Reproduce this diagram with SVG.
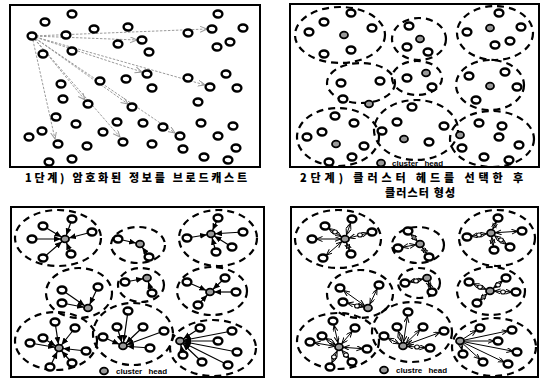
<svg xmlns="http://www.w3.org/2000/svg" xmlns:xlink="http://www.w3.org/1999/xlink" width="545" height="381" viewBox="0 0 545 381">
<style>
.frame{fill:none;stroke:#000;stroke-width:2}
.n{fill:#fff;stroke:#000;stroke-width:2.4}
.h{fill:#9a9a9a;stroke:#000;stroke-width:1.8}
.s{fill:#fff;stroke:#000;stroke-width:1.1}
.c{fill:none;stroke:#000;stroke-width:2.2;stroke-dasharray:7 5}
.g{stroke:#9a9a9a;stroke-width:1;stroke-dasharray:2.5 1.5;marker-end:url(#ga)}
.a{stroke:#000;stroke-width:1.2;marker-end:url(#ba)}
.b{stroke:#000;stroke-width:1;marker-start:url(#ba2);marker-end:url(#ba2)}
.o{stroke:#000;stroke-width:1;marker-end:url(#ba2)}
.cap{font-family:"Noto Sans CJK KR","Noto Sans CJK SC",sans-serif;font-weight:900;font-size:11px;fill:#000}
.lg{font-family:"Liberation Sans",Arial,sans-serif;font-weight:bold;font-size:8px;fill:#000;word-spacing:4px}
</style>
<defs>
<ellipse id="nd" cx="0" cy="0" rx="4.4" ry="3.5" class="n"/>
<ellipse id="hd" cx="0" cy="0" rx="4" ry="3.3" class="h"/>
<ellipse id="sm" cx="0" cy="0" rx="2.4" ry="2" class="s"/>
<marker id="ga" markerUnits="userSpaceOnUse" markerWidth="10" markerHeight="8" refX="7" refY="3" orient="auto"><path d="M0,0 L7,3 L0,6" fill="none" stroke="#9a9a9a" stroke-width="1"/></marker>
<marker id="ba" markerUnits="userSpaceOnUse" markerWidth="14" markerHeight="8" refX="11" refY="3" orient="auto"><path d="M0,0 L7,3 L0,6 z" fill="#000"/></marker>
<marker id="ba2" markerUnits="userSpaceOnUse" markerWidth="14" markerHeight="8" refX="10.5" refY="2.5" orient="auto-start-reverse"><path d="M0,0 L6,2.5 L0,5" fill="none" stroke="#000" stroke-width="1"/></marker>
</defs>
<rect width="545" height="381" fill="#fff"/>

<!-- Panel 1 -->
<g id="panel1">
<rect class="frame" x="10" y="5" width="250" height="162"/>
<g id="p1-connectors">
<line class="g" x1="32" y1="36" x2="207" y2="29"/>
<line class="g" x1="32" y1="36" x2="137" y2="40"/>
<line class="g" x1="32" y1="36" x2="142" y2="72"/>
<line class="g" x1="32" y1="36" x2="205" y2="85"/>
<line class="g" x1="32" y1="36" x2="85" y2="100"/>
<line class="g" x1="32" y1="36" x2="128" y2="104"/>
<line class="g" x1="32" y1="36" x2="55" y2="139"/>
<line class="g" x1="32" y1="36" x2="120" y2="137"/>
<line class="g" x1="32" y1="36" x2="175" y2="133"/>
</g>
<g id="p1-nodes">
<use href="#nd" x="72" y="14"/><use href="#nd" x="45" y="22"/><use href="#nd" x="218" y="14"/>
<use href="#nd" x="32" y="36"/><use href="#nd" x="66" y="35"/><use href="#nd" x="94" y="29"/>
<use href="#nd" x="128" y="27"/><use href="#nd" x="142" y="40"/><use href="#nd" x="118" y="44"/>
<use href="#nd" x="149" y="52"/><use href="#nd" x="188" y="33"/><use href="#nd" x="212" y="29"/>
<use href="#nd" x="243" y="28"/><use href="#nd" x="230" y="42"/><use href="#nd" x="217" y="47"/>
<use href="#nd" x="43" y="54"/><use href="#nd" x="72" y="51"/><use href="#nd" x="147" y="74"/>
<use href="#nd" x="126" y="79"/><use href="#nd" x="100" y="81"/><use href="#nd" x="152" y="88"/>
<use href="#nd" x="188" y="78"/><use href="#nd" x="226" y="74"/><use href="#nd" x="210" y="87"/>
<use href="#nd" x="237" y="88"/><use href="#nd" x="61" y="84"/><use href="#nd" x="63" y="99"/>
<use href="#nd" x="88" y="104"/><use href="#nd" x="132" y="107"/><use href="#nd" x="198" y="102"/>
<use href="#nd" x="56" y="117"/><use href="#nd" x="76" y="124"/><use href="#nd" x="117" y="122"/>
<use href="#nd" x="143" y="123"/><use href="#nd" x="163" y="127"/><use href="#nd" x="201" y="123"/>
<use href="#nd" x="233" y="126"/><use href="#nd" x="42" y="131"/><use href="#nd" x="29" y="137"/>
<use href="#nd" x="103" y="132"/><use href="#nd" x="180" y="136"/><use href="#nd" x="218" y="136"/>
<use href="#nd" x="58" y="144"/><use href="#nd" x="87" y="146"/><use href="#nd" x="123" y="142"/>
<use href="#nd" x="152" y="144"/><use href="#nd" x="183" y="149"/><use href="#nd" x="236" y="148"/>
<use href="#nd" x="49" y="162"/><use href="#nd" x="72" y="159"/><use href="#nd" x="204" y="157"/>
<use href="#nd" x="228" y="160"/>
</g>
</g>
<text class="cap" x="25" y="182" textLength="222" lengthAdjust="spacing">1단계) 암호화된 정보를 브로드캐스트</text>

<!-- Panel 2 -->
<g id="panel2">
<rect class="frame" x="290" y="4" width="249" height="163"/>
<g id="p2-clusters">
<ellipse class="c" cx="340" cy="35" rx="45" ry="28"/>
<ellipse class="c" cx="419" cy="39" rx="27" ry="21"/>
<ellipse class="c" cx="495" cy="33" rx="38" ry="27"/>
<ellipse class="c" cx="361" cy="83" rx="34" ry="20"/>
<ellipse class="c" cx="417" cy="78" rx="25" ry="17"/>
<ellipse class="c" cx="490" cy="85" rx="34" ry="25"/>
<ellipse class="c" cx="338" cy="137" rx="41" ry="29"/>
<ellipse class="c" cx="416" cy="130" rx="42" ry="30"/>
<ellipse class="c" cx="492" cy="139" rx="42" ry="28"/>
</g>
<g id="p2-nodes">
<use href="#nd" x="324" y="22"/><use href="#nd" x="351" y="13"/><use href="#nd" x="372" y="28"/><use href="#nd" x="309" y="32"/><use href="#hd" x="344" y="35"/><use href="#nd" x="324" y="54"/><use href="#nd" x="351" y="50"/>
<use href="#nd" x="409" y="26"/><use href="#hd" x="420" y="39"/><use href="#nd" x="407" y="47"/><use href="#nd" x="428" y="52"/>
<use href="#nd" x="499" y="13"/><use href="#nd" x="467" y="32"/><use href="#hd" x="490" y="28"/><use href="#nd" x="521" y="27"/><use href="#nd" x="510" y="41"/><use href="#nd" x="495" y="45"/>
<use href="#nd" x="341" y="83"/><use href="#nd" x="380" y="81"/><use href="#nd" x="343" y="99"/><use href="#hd" x="369" y="104"/>
<use href="#nd" x="407" y="78"/><use href="#hd" x="426" y="73"/><use href="#nd" x="432" y="87"/>
<use href="#nd" x="469" y="76"/><use href="#nd" x="505" y="72"/><use href="#hd" x="490" y="86"/><use href="#nd" x="517" y="87"/><use href="#nd" x="476" y="100"/>
<use href="#nd" x="335" y="116"/><use href="#nd" x="354" y="123"/><use href="#nd" x="307" y="137"/><use href="#nd" x="322" y="132"/><use href="#hd" x="336" y="144"/><use href="#nd" x="364" y="146"/><use href="#nd" x="329" y="162"/><use href="#nd" x="352" y="157"/>
<use href="#nd" x="397" y="122"/><use href="#nd" x="412" y="107"/><use href="#nd" x="444" y="126"/><use href="#nd" x="382" y="131"/><use href="#hd" x="404" y="139"/><use href="#nd" x="429" y="142"/>
<use href="#hd" x="460" y="135"/><use href="#nd" x="479" y="123"/><use href="#nd" x="502" y="126"/><use href="#nd" x="499" y="137"/><use href="#nd" x="519" y="145"/><use href="#nd" x="462" y="148"/><use href="#nd" x="484" y="157"/><use href="#nd" x="509" y="160"/>
</g>
<g id="p2-legend">
<use href="#hd" x="381" y="163"/>
<text class="lg" x="392" y="166">cluster head</text>
</g>
</g>
<text class="cap" x="300" y="182" textLength="223" lengthAdjust="spacing">2단계) 클러스터 헤드를 선택한 후</text>
<text class="cap" x="385" y="197" textLength="70" lengthAdjust="spacing">클러스터 형성</text>

<!-- Panel 3 -->
<g id="panel3">
<rect class="frame" x="11" y="207" width="253" height="170"/>
<g id="p3-clusters">
<ellipse class="c" cx="58" cy="238" rx="43" ry="28"/>
<ellipse class="c" cx="138" cy="245" rx="27" ry="18"/>
<ellipse class="c" cx="218" cy="238" rx="39" ry="28"/>
<ellipse class="c" cx="79" cy="293" rx="33" ry="25"/>
<ellipse class="c" cx="141" cy="285" rx="23" ry="17"/>
<ellipse class="c" cx="212" cy="291" rx="35" ry="24"/>
<ellipse class="c" cx="56" cy="341" rx="41" ry="29"/>
<ellipse class="c" cx="133" cy="334" rx="40" ry="31"/>
<ellipse class="c" cx="213" cy="348" rx="43" ry="28"/>
</g>
<g id="p3-connectors">
<line class="a" x1="72" y1="219" x2="65" y2="239"/><line class="a" x1="43" y1="226" x2="65" y2="239"/><line class="a" x1="92" y1="232" x2="65" y2="239"/><line class="a" x1="32" y1="239" x2="65" y2="239"/><line class="a" x1="43" y1="258" x2="65" y2="239"/><line class="a" x1="71" y1="254" x2="65" y2="239"/>
<line class="a" x1="118" y1="239" x2="140" y2="244"/><line class="a" x1="149" y1="257" x2="140" y2="244"/>
<line class="a" x1="218" y1="218" x2="211" y2="234"/><line class="a" x1="187" y1="238" x2="211" y2="234"/><line class="a" x1="243" y1="232" x2="211" y2="234"/><line class="a" x1="232" y1="247" x2="211" y2="234"/><line class="a" x1="216" y1="252" x2="211" y2="234"/>
<line class="a" x1="62" y1="290" x2="88" y2="308"/><line class="a" x1="98" y1="287" x2="88" y2="308"/><line class="a" x1="62" y1="303" x2="88" y2="308"/>
<line class="a" x1="125" y1="282" x2="147" y2="278"/><line class="a" x1="152" y1="293" x2="147" y2="278"/>
<line class="a" x1="187" y1="282" x2="210" y2="292"/><line class="a" x1="225" y1="278" x2="210" y2="292"/><line class="a" x1="236" y1="292" x2="210" y2="292"/><line class="a" x1="198" y1="305" x2="210" y2="292"/>
<line class="a" x1="55" y1="322" x2="59" y2="348"/><line class="a" x1="75" y1="328" x2="59" y2="348"/><line class="a" x1="43" y1="338" x2="59" y2="348"/><line class="a" x1="30" y1="343" x2="59" y2="348"/><line class="a" x1="86" y1="351" x2="59" y2="348"/><line class="a" x1="72" y1="363" x2="59" y2="348"/><line class="a" x1="50" y1="367" x2="59" y2="348"/>
<line class="a" x1="128" y1="311" x2="123" y2="346"/><line class="a" x1="117" y1="327" x2="123" y2="346"/><line class="a" x1="143" y1="327" x2="123" y2="346"/><line class="a" x1="103" y1="337" x2="123" y2="346"/><line class="a" x1="164" y1="331" x2="123" y2="346"/><line class="a" x1="150" y1="348" x2="123" y2="346"/>
<line class="a" x1="200" y1="328" x2="180" y2="341"/><line class="a" x1="232" y1="331" x2="180" y2="341"/><line class="a" x1="218" y1="341" x2="180" y2="341"/><line class="a" x1="237" y1="352" x2="180" y2="341"/><line class="a" x1="183" y1="355" x2="180" y2="341"/><line class="a" x1="202" y1="362" x2="180" y2="341"/><line class="a" x1="228" y1="365" x2="180" y2="341"/>
</g>
<g id="p3-nodes">
<use href="#hd" x="65" y="239"/><use href="#nd" x="72" y="219"/><use href="#nd" x="43" y="226"/><use href="#nd" x="92" y="232"/><use href="#nd" x="32" y="239"/><use href="#nd" x="43" y="258"/><use href="#nd" x="71" y="254"/>
<use href="#hd" x="140" y="244"/><use href="#nd" x="118" y="239"/><use href="#nd" x="149" y="257"/>
<use href="#hd" x="211" y="234"/><use href="#nd" x="218" y="218"/><use href="#nd" x="187" y="238"/><use href="#nd" x="243" y="232"/><use href="#nd" x="232" y="247"/><use href="#nd" x="216" y="252"/>
<use href="#hd" x="88" y="308"/><use href="#nd" x="62" y="290"/><use href="#nd" x="98" y="287"/><use href="#nd" x="62" y="303"/>
<use href="#hd" x="147" y="278"/><use href="#nd" x="125" y="282"/><use href="#nd" x="152" y="293"/>
<use href="#hd" x="210" y="292"/><use href="#nd" x="187" y="282"/><use href="#nd" x="225" y="278"/><use href="#nd" x="236" y="292"/><use href="#nd" x="198" y="305"/>
<use href="#hd" x="59" y="348"/><use href="#nd" x="55" y="322"/><use href="#nd" x="75" y="328"/><use href="#nd" x="43" y="338"/><use href="#nd" x="30" y="343"/><use href="#nd" x="86" y="351"/><use href="#nd" x="72" y="363"/><use href="#nd" x="50" y="367"/>
<use href="#hd" x="123" y="346"/><use href="#nd" x="128" y="311"/><use href="#nd" x="117" y="327"/><use href="#nd" x="143" y="327"/><use href="#nd" x="103" y="337"/><use href="#nd" x="164" y="331"/><use href="#nd" x="150" y="348"/>
<use href="#hd" x="180" y="341"/><use href="#nd" x="200" y="328"/><use href="#nd" x="232" y="331"/><use href="#nd" x="218" y="341"/><use href="#nd" x="237" y="352"/><use href="#nd" x="183" y="355"/><use href="#nd" x="202" y="362"/><use href="#nd" x="228" y="365"/>
</g>
<g id="p3-legend">
<use href="#hd" x="104" y="371"/>
<text class="lg" x="116" y="374">cluster head</text>
</g>
</g>

<!-- Panel 4 -->
<g id="panel4">
<rect class="frame" x="291" y="207" width="247" height="170"/>
<g id="p4-clusters">
<ellipse class="c" cx="338" cy="239" rx="43" ry="29"/>
<ellipse class="c" cx="418" cy="245" rx="26" ry="18"/>
<ellipse class="c" cx="497" cy="238" rx="38" ry="28"/>
<ellipse class="c" cx="360" cy="294" rx="33" ry="24"/>
<ellipse class="c" cx="419" cy="283" rx="21" ry="15"/>
<ellipse class="c" cx="491" cy="291" rx="34" ry="24"/>
<ellipse class="c" cx="338" cy="341" rx="41" ry="28"/>
<ellipse class="c" cx="412" cy="332" rx="40" ry="30"/>
<ellipse class="c" cx="494" cy="347" rx="42" ry="29"/>
</g>
<g id="p4-connectors">
<line class="b" x1="352" y1="219" x2="345" y2="239"/><line class="b" x1="325" y1="226" x2="345" y2="239"/><line class="b" x1="372" y1="232" x2="345" y2="239"/><line class="b" x1="312" y1="239" x2="345" y2="239"/><line class="b" x1="323" y1="258" x2="345" y2="239"/><line class="b" x1="351" y1="254" x2="345" y2="239"/>
<line class="b" x1="408" y1="231" x2="420" y2="244"/><line class="b" x1="398" y1="248" x2="420" y2="244"/><line class="b" x1="429" y1="257" x2="420" y2="244"/>
<line class="b" x1="498" y1="218" x2="491" y2="233"/><line class="b" x1="467" y1="237" x2="491" y2="233"/><line class="b" x1="522" y1="231" x2="491" y2="233"/><line class="b" x1="510" y1="247" x2="491" y2="233"/><line class="b" x1="494" y1="250" x2="491" y2="233"/>
<line class="b" x1="340" y1="288" x2="368" y2="308"/><line class="b" x1="379" y1="285" x2="368" y2="308"/><line class="b" x1="343" y1="302" x2="368" y2="308"/>
<line class="b" x1="405" y1="283" x2="427" y2="278"/><line class="b" x1="432" y1="292" x2="427" y2="278"/>
<line class="b" x1="469" y1="282" x2="490" y2="291"/><line class="b" x1="506" y1="278" x2="490" y2="291"/><line class="b" x1="516" y1="292" x2="490" y2="291"/><line class="b" x1="477" y1="303" x2="490" y2="291"/>
<line class="b" x1="333" y1="321" x2="339" y2="347"/><line class="b" x1="355" y1="328" x2="339" y2="347"/><line class="b" x1="322" y1="336" x2="339" y2="347"/><line class="b" x1="310" y1="342" x2="339" y2="347"/><line class="b" x1="367" y1="349" x2="339" y2="347"/><line class="b" x1="352" y1="362" x2="339" y2="347"/><line class="b" x1="330" y1="367" x2="339" y2="347"/>
<line class="b" x1="408" y1="312" x2="403" y2="346"/><line class="b" x1="397" y1="327" x2="403" y2="346"/><line class="b" x1="423" y1="327" x2="403" y2="346"/><line class="b" x1="384" y1="336" x2="403" y2="346"/><line class="b" x1="444" y1="331" x2="403" y2="346"/><line class="b" x1="430" y1="348" x2="403" y2="346"/>
<line class="o" x1="460" y1="341" x2="480" y2="328"/><line class="o" x1="460" y1="341" x2="512" y2="330"/><line class="o" x1="460" y1="341" x2="498" y2="341"/><line class="o" x1="460" y1="341" x2="517" y2="352"/><line class="o" x1="460" y1="341" x2="463" y2="354"/><line class="o" x1="460" y1="341" x2="483" y2="362"/><line class="o" x1="460" y1="341" x2="508" y2="364"/>
</g>
<g id="p4-nodes">
<use href="#hd" x="345" y="239"/><use href="#nd" x="352" y="219"/><use href="#nd" x="325" y="226"/><use href="#nd" x="372" y="232"/><use href="#nd" x="312" y="239"/><use href="#nd" x="323" y="258"/><use href="#nd" x="351" y="254"/>
<use href="#sm" x="335" y="232"/><use href="#sm" x="360" y="235"/>
<use href="#hd" x="420" y="244"/><use href="#nd" x="408" y="231"/><use href="#nd" x="398" y="248"/><use href="#nd" x="429" y="257"/>
<use href="#hd" x="491" y="233"/><use href="#nd" x="498" y="218"/><use href="#nd" x="467" y="237"/><use href="#nd" x="522" y="231"/><use href="#nd" x="510" y="247"/><use href="#nd" x="494" y="250"/>
<use href="#sm" x="479" y="235"/><use href="#sm" x="501" y="240"/>
<use href="#hd" x="368" y="308"/><use href="#nd" x="340" y="288"/><use href="#nd" x="379" y="285"/><use href="#nd" x="343" y="302"/>
<use href="#sm" x="357" y="306"/>
<use href="#hd" x="427" y="278"/><use href="#nd" x="405" y="283"/><use href="#nd" x="432" y="292"/>
<use href="#sm" x="416" y="281"/>
<use href="#hd" x="490" y="291"/><use href="#nd" x="469" y="282"/><use href="#nd" x="506" y="278"/><use href="#nd" x="516" y="292"/><use href="#nd" x="477" y="303"/>
<use href="#sm" x="480" y="287"/><use href="#sm" x="498" y="285"/><use href="#sm" x="503" y="292"/>
<use href="#hd" x="339" y="347"/><use href="#nd" x="333" y="321"/><use href="#nd" x="355" y="328"/><use href="#nd" x="322" y="336"/><use href="#nd" x="310" y="342"/><use href="#nd" x="367" y="349"/><use href="#nd" x="352" y="362"/><use href="#nd" x="330" y="367"/>
<use href="#sm" x="346" y="355"/><use href="#sm" x="334" y="357"/>
<use href="#hd" x="403" y="346"/><use href="#nd" x="408" y="312"/><use href="#nd" x="397" y="327"/><use href="#nd" x="423" y="327"/><use href="#nd" x="384" y="336"/><use href="#nd" x="444" y="331"/><use href="#nd" x="430" y="348"/>
<use href="#sm" x="417" y="347"/>
<use href="#hd" x="460" y="341"/><use href="#nd" x="480" y="328"/><use href="#nd" x="512" y="330"/><use href="#nd" x="498" y="341"/><use href="#nd" x="517" y="352"/><use href="#nd" x="463" y="354"/><use href="#nd" x="483" y="362"/><use href="#nd" x="508" y="364"/>
</g>
<g id="p4-legend">
<use href="#hd" x="384" y="370"/>
<text class="lg" x="396" y="373">clustre head</text>
</g>
</g>
</svg>
